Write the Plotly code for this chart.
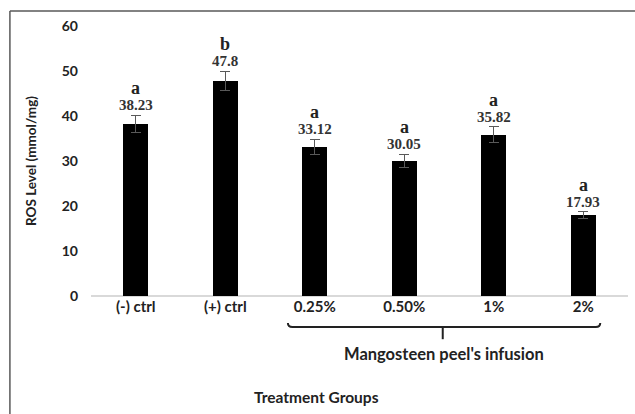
import plotly.graph_objects as go

categories = ["(-) ctrl", "(+) ctrl", "0.25%", "0.50%", "1%", "2%"]
ros_values = [38.23, 47.8, 33.12, 30.05, 35.82, 17.93]
ros_errors = [1.9, 2.2, 1.7, 1.4, 1.8, 0.8]
sig_letters = ["a", "b", "a", "a", "a", "a"]
value_labels = ["38.23", "47.8", "33.12", "30.05", "35.82", "17.93"]
y_ticks = [0, 10, 20, 30, 40, 50, 60]

sans = "Lato"
serif = "Liberation Serif"

fig = go.Figure()
fig.add_trace(go.Bar(
    x=list(range(len(categories))), y=ros_values, width=0.28,
    marker=dict(color="black", line=dict(width=0)),
    error_y=dict(type="data", array=ros_errors, color="#595959", thickness=1, width=5),
    showlegend=False,
))

annotations = []
for i, (v, e, s, lab) in enumerate(zip(ros_values, ros_errors, sig_letters, value_labels)):
    annotations.append(dict(x=i, y=v + e, xref="x", yref="y", text="<b>" + lab + "</b>", showarrow=False,
                            yanchor="bottom", yshift=0,
                            font=dict(family=serif, size=15, color="#333333")))
    annotations.append(dict(x=i, y=v + e, xref="x", yref="y", text="<b>" + s + "</b>", showarrow=False,
                            yanchor="bottom", yshift=15,
                            font=dict(family=serif, size=18, color="#222222")))

annotations.append(dict(x=3.44, y=-0.17, xref="x", yref="paper", text="<b>Mangosteen peel's infusion</b>",
                        showarrow=False, yanchor="top", font=dict(family=sans, size=16.5, color="#222222")))
annotations.append(dict(x=0.42, y=-0.375, xref="paper", yref="paper", text="<b>Treatment Groups</b>",
                        showarrow=False, yanchor="middle", font=dict(family=sans, size=15.5, color="#222222")))

frame = dict(color="#595959", width=1.5)
shapes = [
    dict(type="line", xref="paper", yref="paper", x0=-0.151, x1=1.05, y0=1.056, y1=1.056,
         line=frame, layer="below"),
    dict(type="line", xref="paper", yref="paper", x0=-0.151, x1=-0.151, y0=1.056, y1=-0.5,
         line=frame, layer="below"),
    dict(type="path", xref="x", yref="paper",
         path="M 1.70,-0.10 Q 1.70,-0.115 1.75,-0.115 L 5.14,-0.115 Q 5.19,-0.115 5.19,-0.10",
         line=dict(color="#222222", width=2)),
    dict(type="line", xref="x", yref="paper", x0=3.43, x1=3.43, y0=-0.115, y1=-0.16,
         line=dict(color="#222222", width=2)),
]

fig.update_layout(
    width=635, height=414,
    margin=dict(l=91, r=7, t=26, b=118),
    paper_bgcolor="white", plot_bgcolor="white",
    annotations=annotations, shapes=shapes,
    xaxis=dict(range=[-0.5, 5.5], tickmode="array", tickvals=list(range(len(categories))),
               ticktext=["<b>" + c + "</b>" for c in categories],
               tickfont=dict(family=sans, size=15, color="#222222"),
               showgrid=False, zeroline=False, showline=False, ticks="", ticklen=0),
    yaxis=dict(range=[0, 60], tickvals=y_ticks, ticktext=["<b>%d</b>" % t for t in y_ticks],
               tickfont=dict(family=sans, size=14, color="#222222"),
               showgrid=False, zeroline=True, zerolinecolor="#d9d9d9", zerolinewidth=2,
               showline=False, ticks="", ticklabelstandoff=12,
               title=dict(text="<b>ROS Level (mmol/mg)</b>", font=dict(family=sans, size=13.5, color="#222222"),
                          standoff=22)),
    bargap=0,
)

fig.write_html("out.html", config={"displayModeBar": False},
               post_script="document.body.style.margin='0';document.body.style.overflow='hidden';")
